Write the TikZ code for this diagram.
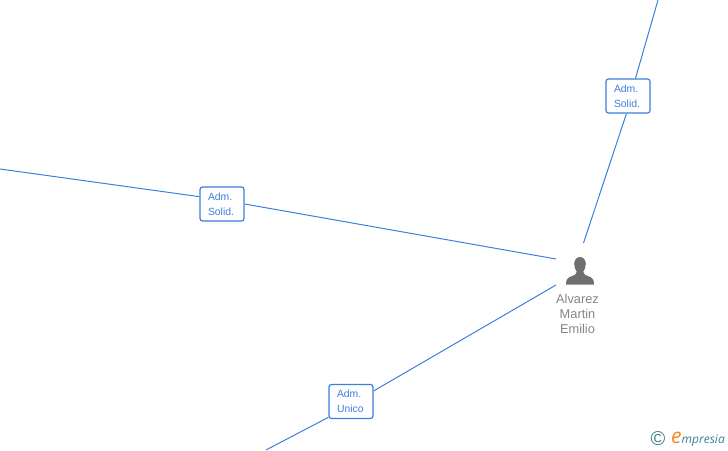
\documentclass[tikz,border=0pt]{standalone}
\usepackage{fontspec}
\setmainfont{Liberation Sans}
\newfontfamily\logofont{Open Sans}
\usetikzlibrary{
  positioning % For the name below the icon
}

\definecolor{linkblue}{HTML}{3C7FDD}
\definecolor{persongray}{HTML}{6F6F6F}
\definecolor{logoteal}{HTML}{3A7F8F}
\definecolor{logoorange}{HTML}{F08A1D}

\begin{document}
\begin{tikzpicture}[
      x=1pt, y=-1pt, % Pixel coordinates of the picture
      link/.style={linkblue, line width=1pt}, % Style for connectors
      role/.style={draw=linkblue, line width=1.2pt, fill=white, rounded corners=2.5pt,
          minimum width=44pt, minimum height=34pt, inner xsep=8pt, inner ysep=0pt,
          text width=28pt, align=left,
          text=linkblue, font=\fontsize{10.4}{15}\selectfont}, % Style for role boxes
    ]
    \useasboundingbox (0,0) rectangle (728,450);

    % Koordinaten der freien Enden
    \coordinate (west) at (0,169);
    \coordinate (north) at (658,0);
    \coordinate (south) at (266,450);
    \coordinate (personW) at (556,259);
    \coordinate (personN) at (583.5,243);
    \coordinate (personS) at (556,285);

    % Rollen
    \node[role] (solidW) at (222,204) {Adm.\\Solid.};
    \node[role] (solidN) at (628,96) {Adm.\\Solid.};
    \node[role] (unico) at (351,401.5) {Adm.\\Unico};

    % Verbindungen
    \draw[link] (west) -- (solidW.162);
    \draw[link] (solidW.east) -- (personW);
    \draw[link] (north) -- (solidN.67);
    \draw[link] (solidN.-95) -- (personN);
    \draw[link] (south) -- (unico.-145);
    \draw[link] (unico.25) -- (personS);

    % Person
    \fill[persongray] (580,257) .. controls (576.5,257) and (574.2,260) .. (574.2,264)
      .. controls (574.2,267.5) and (575.5,270) .. (576.8,271.8)
      .. controls (576.8,274.5) and (574,275.5) .. (571,276.5)
      .. controls (567.5,277.7) and (566,279.5) .. (566,284.5)
      -- (594,284.5)
      .. controls (594,279.5) and (592.5,277.7) .. (589,276.5)
      .. controls (586,275.5) and (583.2,274.5) .. (583.2,271.8)
      .. controls (584.5,270) and (585.8,267.5) .. (585.8,264)
      .. controls (585.8,260) and (583.5,257) .. (580,257) -- cycle;
    \coordinate (icon) at (577.5,294.5);
    \node[below=0pt of icon, inner sep=0pt, align=center, text=persongray!85!white,
        font=\fontsize{12.8}{15}\selectfont] (name) {Alvarez\\Martin\\Emilio};

    % Logo
    \node[inner sep=0pt, text=logoteal, font=\fontsize{20}{20}\selectfont] (copyright) at (658,439) {©};
    \node[inner sep=0pt, anchor=base west, text=logoorange,
        font=\logofont\itshape\fontsize{21}{21}\selectfont] (logoE) at (671,443.5) {e};
    \node[inner sep=0pt, anchor=base west, text=logoteal,
        font=\logofont\itshape\fontsize{12}{12}\selectfont] (logoText) at (681.5,443) {mpresia};
  \end{tikzpicture}
\end{document}
